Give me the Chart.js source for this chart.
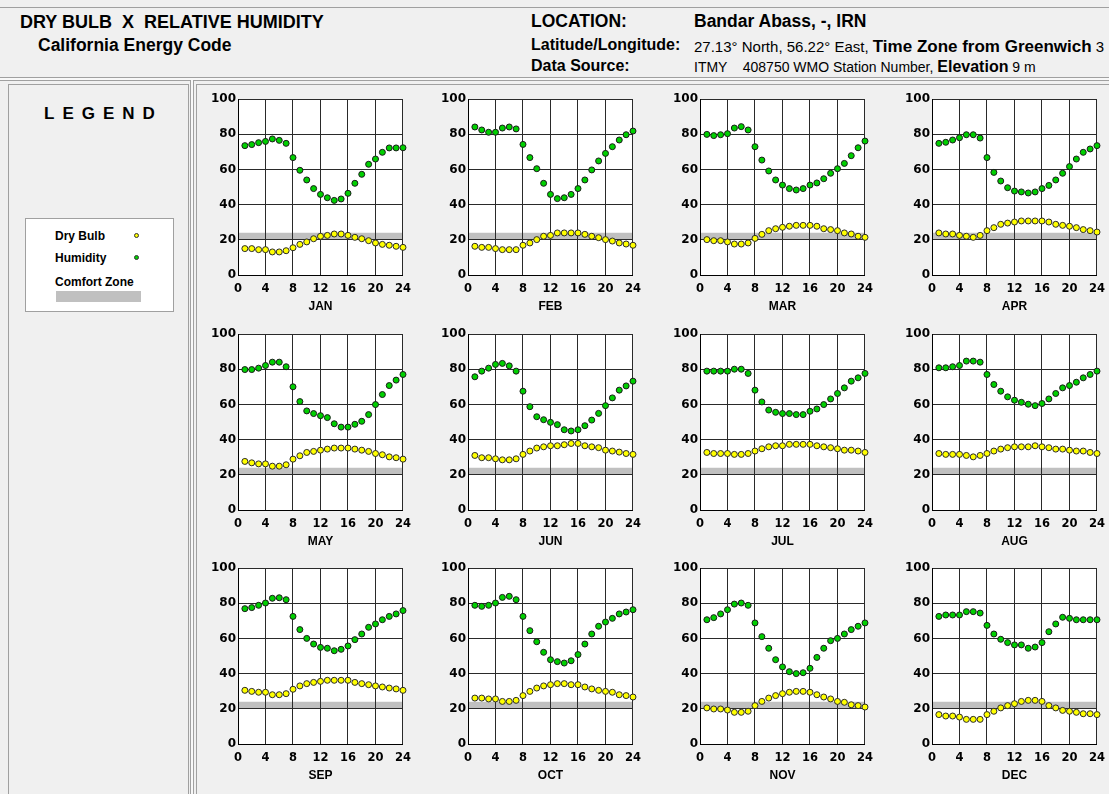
<!DOCTYPE html>
<html>
<head>
<meta charset="utf-8">
<script src="https://cdn.jsdelivr.net/npm/chart.js@4.4.1/dist/chart.umd.min.js"></script>
<style>
  html, body { margin: 0; padding: 0; }
  body { width: 1109px; height: 794px; background: #f0f0f0; position: relative; overflow: hidden;
         font-family: "Liberation Sans", Arial, sans-serif; color: #000; }
  .abs { position: absolute; white-space: pre; line-height: 1; }
  .hline { position: absolute; left: 0; width: 1109px; height: 1px; background: #a0a0a0; }
  .panel { position: absolute; border: 1px solid #a0a0a0; box-sizing: border-box; }
  canvas.month { position: absolute; }
  .b { font-weight: bold; }
  .dot { position: absolute; width: 5px; height: 5px; border-radius: 50%; border: 1px solid #333; box-sizing: border-box; }
</style>
</head>
<body>
<!-- header frame -->
<div class="hline" style="top:7px"></div>
<div class="abs b" style="left:20px; top:13px; font-size:18px">DRY BULB  X  RELATIVE HUMIDITY</div>
<div class="abs b" style="left:38px; top:37px; font-size:17.5px">California Energy Code</div>
<div class="abs b" style="left:531px; top:13px; font-size:17.5px">LOCATION:</div>
<div class="abs b" style="left:694px; top:13px; font-size:17.5px">Bandar Abass, -, IRN</div>
<div class="abs b" style="left:531px; top:37px; font-size:16px">Latitude/Longitude:</div>
<div class="abs" style="left:694px; top:37.5px; font-size:15px">27.13° North, 56.22° East, <span class="b" style="font-size:17px">Time Zone from Greenwich</span> 3</div>
<div class="abs b" style="left:531px; top:58px; font-size:16px">Data Source:</div>
<div class="abs" style="left:694px; top:58.5px; font-size:14px">ITMY    408750 WMO Station Number, <span class="b" style="font-size:16px">Elevation</span> 9 m</div>
<div style="position:absolute; left:0; top:77px; width:1109px; height:4px; box-sizing:border-box; border-top:1px solid #a0a0a0; border-bottom:1px solid #a0a0a0; background:#f8f8f8"></div>

<!-- side panel with legend -->
<div class="panel" style="left:8px; top:84px; width:181px; height:720px"></div>
<div style="position:absolute; left:190px; top:80px; width:4px; height:720px; box-sizing:border-box; border-left:1px solid #a0a0a0; border-right:1px solid #a0a0a0; background:#f8f8f8"></div>
<div class="panel" style="left:196px; top:84px; width:920px; height:720px"></div>

<div class="abs b" style="left:44px; top:105px; font-size:17px; letter-spacing:8px">LEGEND</div>
<div style="position:absolute; left:25px; top:218px; width:149px; height:94px; background:#fff; border:1px solid #a0a0a0; box-sizing:border-box"></div>
<div class="abs b" style="left:55px; top:230px; font-size:12px">Dry Bulb</div>
<div class="dot" style="left:134px; top:233px; background:#ffff00"></div>
<div class="abs b" style="left:55px; top:252px; font-size:12px">Humidity</div>
<div class="dot" style="left:134px; top:255px; background:#00d000"></div>
<div class="abs b" style="left:55px; top:276px; font-size:12px">Comfort Zone</div>
<div style="position:absolute; left:56px; top:291px; width:85px; height:11px; background:#c0c0c0"></div>

<script>
// Hour of day for each reading
const hours = [1,2,3,4,5,6,7,8,9,10,11,12,13,14,15,16,17,18,19,20,21,22,23,24];
const monthNames = ['JAN','FEB','MAR','APR','MAY','JUN','JUL','AUG','SEP','OCT','NOV','DEC'];
const xTicks = [0,4,8,12,16,20,24];
const yTicks = [0,20,40,60,80,100];
const comfortLow = 20;
const comfortHigh = 24;

// Hourly dry bulb temperature (°C) and relative humidity (%)
const janDryBulb = [15.0,15.0,14.4,14.4,13.1,13.1,13.8,15.5,17.4,18.8,20.6,22.0,22.5,23.3,23.3,22.5,21.4,20.6,19.5,18.2,17.4,16.9,16.3,15.7];
const janHumidity = [73.5,74.1,75.2,75.9,77.3,76.5,74.8,66.7,59.5,54.0,49.1,45.8,43.9,42.4,43.2,46.4,52.1,57.2,62.9,65.9,69.7,72.2,72.2,72.3];
const febDryBulb = [16.3,15.7,15.7,15.0,14.4,14.4,14.4,16.9,18.2,20.1,22.0,22.5,23.9,23.9,23.9,23.9,23.1,22.0,21.2,20.1,19.3,18.2,17.6,16.9];
const febHumidity = [84.1,82.4,81.1,81.1,83.5,84.1,83.0,74.2,66.7,60.4,52.1,45.8,43.4,43.9,45.8,49.1,54.0,59.7,64.8,69.1,72.9,76.7,79.7,81.8];
const marDryBulb = [20.1,19.5,19.5,18.8,17.6,17.6,18.2,20.8,23.1,25.2,26.3,27.1,27.7,28.2,28.2,28.2,27.7,26.3,25.8,25.2,23.9,23.3,22.0,21.4];
const marHumidity = [79.9,79.2,79.7,80.3,83.5,84.3,82.4,72.9,65.3,59.1,54.0,51.1,49.1,48.3,49.1,51.1,52.3,54.7,57.8,60.4,63.4,67.8,72.3,76.1];
const aprDryBulb = [23.9,23.3,23.3,22.5,22.0,21.4,22.5,25.2,26.9,28.8,29.5,30.1,30.7,30.7,30.7,30.7,30.1,28.8,28.2,27.7,26.9,25.8,25.2,24.4];
const aprHumidity = [74.8,75.4,76.7,78.0,79.7,79.7,77.8,66.7,58.3,53.4,49.6,47.7,47.2,46.6,47.2,49.1,50.9,54.0,57.8,61.6,65.9,69.7,71.6,73.5];
const mayDryBulb = [27.6,26.8,26.2,26.2,24.9,24.9,25.7,28.9,30.8,32.7,33.3,34.0,34.6,35.2,35.2,35.2,34.6,34.0,33.3,32.1,31.4,30.2,29.7,28.9];
const mayHumidity = [79.8,79.8,80.6,82.1,84.0,84.0,81.4,70.0,61.6,56.3,54.8,53.6,52.5,49.0,47.1,47.1,48.7,50.4,54.2,59.9,65.6,70.7,73.8,77.0];
const junDryBulb = [31.0,29.7,29.7,29.1,28.5,28.5,29.1,31.6,33.5,35.2,35.9,36.5,36.5,37.1,37.8,37.8,36.5,35.9,35.4,34.0,33.5,32.9,32.1,31.6];
const junHumidity = [75.7,78.9,80.6,82.7,83.3,81.9,78.9,67.5,58.7,53.0,51.3,49.8,48.5,45.6,44.9,45.6,47.9,51.1,54.9,59.3,63.7,68.1,70.5,73.2];
const julDryBulb = [32.7,32.1,32.1,32.1,31.6,31.6,32.1,33.5,34.8,35.9,36.5,36.5,37.3,37.3,37.3,37.3,36.5,35.9,35.4,34.8,34.0,34.0,33.5,32.7];
const julHumidity = [78.9,78.9,78.9,78.9,80.0,80.0,77.6,68.1,61.4,56.8,55.5,54.8,54.8,54.2,54.2,56.1,57.4,59.9,63.1,66.2,69.4,73.2,75.1,77.6];
const augDryBulb = [32.1,31.6,31.6,31.6,31.0,30.2,31.0,32.1,33.5,34.6,35.4,35.9,35.9,35.9,36.5,35.9,35.4,34.6,34.6,34.0,33.5,33.5,32.7,32.1];
const augHumidity = [80.8,80.8,81.4,82.1,84.6,84.6,84.0,77.0,71.3,67.5,64.3,62.4,61.2,60.1,59.3,60.5,63.1,66.2,69.4,70.7,72.6,75.1,77.0,78.9];
const sepDryBulb = [30.5,29.9,29.4,29.4,28.0,28.0,28.6,31.1,33.0,34.3,35.0,35.6,36.2,36.2,36.2,36.2,35.0,34.3,33.7,33.0,32.4,31.8,31.3,30.5];
const sepHumidity = [76.9,77.5,78.8,80.1,82.8,83.1,82.0,72.5,65.0,60.0,56.8,54.9,54.4,53.0,53.8,55.7,59.3,62.5,66.3,68.2,70.6,72.5,73.9,75.8];
const octDryBulb = [26.1,26.1,25.6,25.6,24.2,24.2,24.8,27.5,29.9,31.8,33.0,33.7,34.3,34.3,33.7,33.7,32.4,31.3,30.5,29.9,29.4,28.0,27.5,26.7];
const octHumidity = [78.8,78.2,78.8,80.1,83.3,83.9,82.0,72.5,64.4,58.1,52.1,47.9,46.8,46.0,47.3,50.8,56.8,62.5,66.9,69.3,71.4,73.9,75.0,76.3];
const novDryBulb = [20.5,19.9,19.9,19.3,18.0,18.0,18.6,21.8,24.2,26.1,27.5,28.6,29.4,29.9,29.9,29.4,28.0,26.7,25.6,24.2,23.7,22.3,21.8,21.0];
const novHumidity = [70.6,71.8,73.9,76.3,79.5,80.1,78.8,68.8,61.0,54.4,47.9,43.8,41.1,40.0,40.5,43.0,49.2,54.4,58.7,60.0,62.5,65.0,66.9,68.8];
const decDryBulb = [16.7,15.9,15.9,15.3,14.0,14.0,14.0,16.7,18.6,20.5,21.8,22.9,24.2,24.8,24.8,24.2,21.8,20.5,19.1,18.6,18.0,17.2,17.2,16.7];
const decHumidity = [72.5,73.3,73.3,73.3,75.2,75.2,74.4,67.4,62.5,59.5,57.6,56.3,56.3,54.4,55.1,57.6,63.8,68.2,72.0,71.4,70.6,70.6,70.6,70.6];

const dryBulbByMonth = [janDryBulb, febDryBulb, marDryBulb, aprDryBulb, mayDryBulb, junDryBulb,
                        julDryBulb, augDryBulb, sepDryBulb, octDryBulb, novDryBulb, decDryBulb];
const humidityByMonth = [janHumidity, febHumidity, marHumidity, aprHumidity, mayHumidity, junHumidity,
                         julHumidity, augHumidity, sepHumidity, octHumidity, novHumidity, decHumidity];

// Grid of small multiples: plot-area origins and size
const plotLefts = [238, 468, 700, 932];
const plotTops = [99, 334, 568];
const plotW = 166, plotH = 176;
const padLeft = 35, padTop = 10, padRight = 14, padBottom = 44;

// White plot background plus the comfort band, painted beneath the grid
const backdrop = {
  id: 'backdrop',
  beforeDraw(chart) {
    const { ctx, chartArea: a, scales: { y } } = chart;
    ctx.save();
    ctx.fillStyle = '#ffffff';
    ctx.fillRect(a.left, a.top, a.right - a.left, a.bottom - a.top);
    const yHigh = y.getPixelForValue(comfortHigh);
    const yLow = y.getPixelForValue(comfortLow);
    ctx.fillStyle = '#c0c0c0';
    ctx.fillRect(a.left, yHigh, a.right - a.left, yLow - yHigh);
    ctx.restore();
  }
};

const tickFont = (size) => ({ family: 'DejaVu Sans', weight: 'bold', size });

monthNames.forEach((name, m) => {
  const col = m % 4, row = Math.floor(m / 4);
  const canvas = document.createElement('canvas');
  canvas.className = 'month';
  canvas.width = padLeft + plotW + padRight;
  canvas.height = padTop + plotH + padBottom;
  canvas.style.left = (plotLefts[col] - padLeft) + 'px';
  canvas.style.top = (plotTops[row] - padTop) + 'px';
  document.body.appendChild(canvas);

  const toPoints = (vals) => hours.map((h, i) => ({ x: h, y: vals[i] }));

  new Chart(canvas, {
    type: 'scatter',
    data: {
      datasets: [
        { label: 'Dry Bulb', data: toPoints(dryBulbByMonth[m]), backgroundColor: '#ffff00',
          borderColor: '#2b2b2b', borderWidth: 1, pointRadius: 3, clip: false },
        { label: 'Humidity', data: toPoints(humidityByMonth[m]), backgroundColor: '#00d000',
          borderColor: '#1a1a1a', borderWidth: 1, pointRadius: 3, clip: false }
      ]
    },
    options: {
      responsive: false,
      animation: false,
      devicePixelRatio: 1,
      layout: { padding: { left: 0, top: padTop, right: padRight, bottom: 0 } },
      plugins: { legend: { display: false }, tooltip: { enabled: false } },
      scales: {
        x: {
          type: 'linear', min: xTicks[0], max: xTicks[xTicks.length - 1],
          afterBuildTicks: (s) => { s.ticks = xTicks.map(v => ({ value: v })); },
          afterFit: (s) => { s.height = padBottom; },
          ticks: { font: tickFont(11.5), color: '#000', padding: 7, maxRotation: 0, autoSkip: false },
          grid: { color: '#2a2a2a', lineWidth: 1, drawTicks: false },
          border: { color: '#000', width: 1 },
          title: { display: true, text: name, color: '#000',
                   font: { family: 'Liberation Sans', weight: 'bold', size: 12 },
                   padding: { top: 0, bottom: 5 } }
        },
        y: {
          type: 'linear', min: yTicks[0], max: yTicks[yTicks.length - 1],
          afterBuildTicks: (s) => { s.ticks = yTicks.map(v => ({ value: v })); },
          afterFit: (s) => { s.width = padLeft; },
          ticks: { font: tickFont(12), color: '#000', padding: 2, autoSkip: false },
          grid: { color: '#2a2a2a', lineWidth: 1, drawTicks: false },
          border: { color: '#000', width: 1 }
        }
      }
    },
    plugins: [backdrop]
  });
});
</script>
</body>
</html>
